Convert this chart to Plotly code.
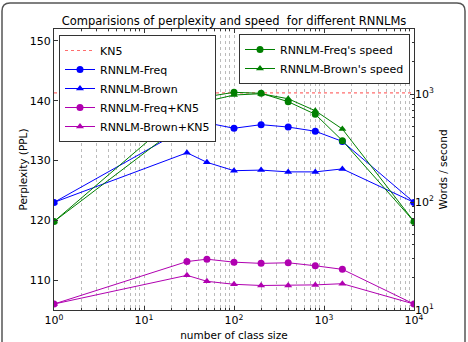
import plotly.graph_objects as go

class_size = [1, 30, 50, 100, 200, 400, 800, 1600, 10000]
ppl_freq = [123.0, 135.5, 136.3, 135.4, 136.0, 135.6, 134.9, 133.2, 123.0]
ppl_brown = [123.0, 131.3, 129.7, 128.3, 128.4, 128.1, 128.1, 128.6, 123.0]
ppl_freq_kn5 = [106.0, 113.1, 113.5, 113.0, 112.8, 112.9, 112.4, 111.8, 106.0]
ppl_brown_kn5 = [106.0, 110.8, 109.8, 109.3, 109.1, 109.1, 109.2, 109.4, 106.0]
kn5_ppl = 141.3
speed_freq = [66, 747, 944, 1037, 1015, 849, 649, 370, 66]
speed_brown = [66, 566, 856, 979, 1006, 904, 700, 474, 66]

x_ticks = [1, 10, 100, 1000, 10000]
x_ticktext = ["10<sup>0</sup>", "10<sup>1</sup>", "10<sup>2</sup>", "10<sup>3</sup>", "10<sup>4</sup>"]
y_ticks = [110, 120, 130, 140, 150]
y2_ticks = [10, 100, 1000]
y2_ticktext = ["10<sup>1</sup>", "10<sup>2</sup>", "10<sup>3</sup>"]

BLUE = "#0000ff"
GREEN = "#007f00"
PURPLE = "#b000b0"
FONT = "DejaVu Sans"

fig = go.Figure()
fig.add_trace(go.Scatter(x=[class_size[0], class_size[-1]], y=[kn5_ppl, kn5_ppl], mode="lines",
                         line=dict(color="rgba(255,60,60,0.75)", dash="dot", width=1.2), name="KN5", legend="legend"))
fig.add_trace(go.Scatter(x=class_size, y=ppl_freq, mode="lines+markers", name="RNNLM-Freq",
                         line=dict(color=BLUE, width=1), marker=dict(symbol="circle", size=7, color=BLUE), legend="legend"))
fig.add_trace(go.Scatter(x=class_size, y=ppl_brown, mode="lines+markers", name="RNNLM-Brown",
                         line=dict(color=BLUE, width=1), marker=dict(symbol="triangle-up", size=7, color=BLUE), legend="legend"))
fig.add_trace(go.Scatter(x=class_size, y=ppl_freq_kn5, mode="lines+markers", name="RNNLM-Freq+KN5",
                         line=dict(color=PURPLE, width=1), marker=dict(symbol="circle", size=7, color=PURPLE), legend="legend"))
fig.add_trace(go.Scatter(x=class_size, y=ppl_brown_kn5, mode="lines+markers", name="RNNLM-Brown+KN5",
                         line=dict(color=PURPLE, width=1), marker=dict(symbol="triangle-up", size=7, color=PURPLE), legend="legend"))
fig.add_trace(go.Scatter(x=class_size, y=speed_freq, mode="lines+markers", name="RNNLM-Freq's speed", yaxis="y2",
                         line=dict(color=GREEN, width=1), marker=dict(symbol="circle", size=7, color=GREEN), legend="legend2"))
fig.add_trace(go.Scatter(x=class_size, y=speed_brown, mode="lines+markers", name="RNNLM-Brown's speed", yaxis="y2",
                         line=dict(color=GREEN, width=1), marker=dict(symbol="triangle-up", size=7, color=GREEN), legend="legend2"))

# plot area geometry (pixels)
L, R, T, B = 54, 54, 29, 32
W, H = 468, 342
pw, ph = W - L - R, H - T - B

def px(x):
    return (x - L) / pw

def py(y):
    return (H - B - y) / ph

# rounded outer frame
x0, x1, y0, y1, r = 2, 465, 3, 350, 8
path = (f"M {px(x0)},{py(y0 + r)} L {px(x0)},{py(y1)} M {px(x1)},{py(y1)} L {px(x1)},{py(y0 + r)} "
        f"Q {px(x1)},{py(y0)} {px(x1 - r)},{py(y0)} L {px(x0 + r)},{py(y0)} Q {px(x0)},{py(y0)} {px(x0)},{py(y0 + r)}")
fig.add_shape(type="path", path=path, xref="paper", yref="paper", line=dict(color="#555555", width=1.5))

legend_style = dict(bgcolor="white", bordercolor="#333333", borderwidth=1,
                    font=dict(family=FONT, size=11, color="black"), xanchor="left", yanchor="top",
                    tracegroupgap=0, itemwidth=30)

fig.update_layout(
    width=W, height=H,
    margin=dict(l=L, r=R, t=T, b=B),
    paper_bgcolor="white", plot_bgcolor="white",
    font=dict(family=FONT, size=11, color="black"),
    title=dict(text="Comparisions of perplexity and speed  for different RNNLMs", x=0.5, xanchor="center",
               y=1 - 21 / H, yanchor="middle", font=dict(family=FONT, size=11.5, color="black")),
    xaxis=dict(type="log", range=[0, 4], tickvals=x_ticks, ticktext=x_ticktext, automargin=False,
               showline=True, linecolor="#333333", linewidth=1, mirror="ticks",
               ticks="inside", ticklen=4, tickcolor="#333333",
               showgrid=True, gridcolor="#bbbbbb", griddash="dot", gridwidth=1,
               minor=dict(dtick="D1", ticks="inside", ticklen=2, tickcolor="#333333", showgrid=True,
                          gridcolor="#bbbbbb", griddash="dot", gridwidth=1),
               zeroline=False,
               title=dict(text="number of class size", standoff=5, font=dict(family=FONT, size=10.5)),
               tickfont=dict(family=FONT, size=11)),
    yaxis=dict(range=[105, 152], tickvals=y_ticks, showline=True, linecolor="#333333", linewidth=1,
               mirror=True, ticks="inside", ticklen=4, tickcolor="#333333", showgrid=False, zeroline=False,
               automargin=False,
               title=dict(text="Perplexity (PPL)", standoff=0, font=dict(family=FONT, size=10.5)),
               tickfont=dict(family=FONT, size=11)),
    yaxis2=dict(type="log", range=[1, 3.602], overlaying="y", side="right", tickvals=y2_ticks,
                ticktext=y2_ticktext, ticks="inside", ticklen=4, tickcolor="#333333", automargin=False,
                minor=dict(dtick="D1", ticks="inside", ticklen=2, tickcolor="#333333", showgrid=False),
                showgrid=False, zeroline=False, showline=False,
                title=dict(text="Words / second", standoff=6, font=dict(family=FONT, size=10.5)),
                tickfont=dict(family=FONT, size=11)),
    legend=dict(x=px(59), y=py(35), **legend_style),
    legend2=dict(x=px(239), y=py(34), **legend_style),
    showlegend=True,
)

fig.write_html("out.html")
